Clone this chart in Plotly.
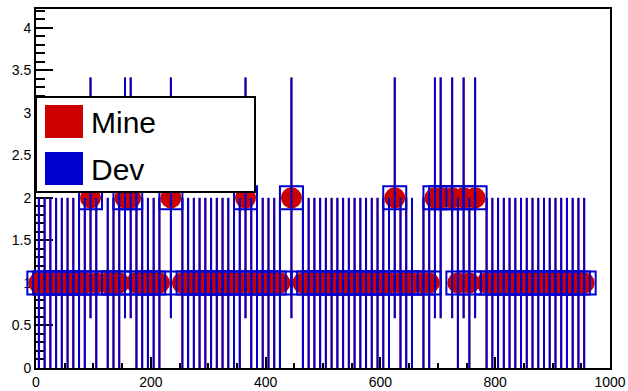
import math
import plotly.graph_objects as go

# ---- data (non-empty bins, bin width 10) ----
bin_centers = [5, 15, 25, 35, 45, 55, 65, 75, 85, 95, 105, 125, 135, 145, 155, 165, 175, 185, 195, 205,
               215, 235, 255, 265, 275, 285, 295, 305, 315, 325, 335, 345, 355, 365, 375, 385, 395, 405,
               415, 425, 445, 465, 475, 485, 495, 505, 515, 525, 535, 545, 555, 565, 575, 585, 595,
               605, 615, 625, 635, 645, 655, 675, 685, 695, 705, 725, 735, 745, 755, 765, 785, 795,
               805, 815, 825, 835, 845, 855, 865, 875, 885, 895, 905, 915, 925, 935, 945, 955]
mine_counts = [1, 1, 1, 1, 1, 1, 1, 1, 1, 2, 1, 1, 1, 1, 2, 2, 1, 1, 1, 1,
               1, 2, 1, 1, 1, 1, 1, 1, 1, 1, 1, 1, 1, 2, 1, 1, 1, 1,
               1, 1, 2, 1, 1, 1, 1, 1, 1, 1, 1, 1, 1, 1, 1, 1, 1,
               1, 1, 2, 1, 1, 1, 1, 1, 2, 2, 2, 1, 2, 1, 2, 1, 1,
               1, 1, 1, 1, 1, 1, 1, 1, 1, 1, 1, 1, 1, 1, 1, 1]
dev_counts = list(mine_counts)

x_ticks = [0, 200, 400, 600, 800, 1000]
y_ticks = [0, 0.5, 1, 1.5, 2, 2.5, 3, 3.5, 4]
series_names = ["Mine", "Dev"]

RED = "#cc0000"
BLUE = "#0000cc"

W, H = 628, 391
ML, MR, MT, MB = 36, 18, 9, 23
PW, PH = W - ML - MR, H - MT - MB


def px_x(p):
    return (p - ML) / PW


def px_y(p):
    return (H - MB - p) / PH


fig = go.Figure()

fig.add_trace(go.Scatter(
    x=bin_centers, y=mine_counts, mode="markers", name=series_names[0],
    marker=dict(symbol="circle", size=21, color=RED, line=dict(width=0)),
    error_y=dict(type="data", array=[math.sqrt(v) for v in mine_counts],
                 color=RED, thickness=2, width=0),
    cliponaxis=False, showlegend=False,
))
fig.add_trace(go.Scatter(
    x=bin_centers, y=dev_counts, mode="markers", name=series_names[1],
    marker=dict(symbol="square-open", size=23, color=BLUE, line=dict(width=2, color=BLUE)),
    error_y=dict(type="data", array=[math.sqrt(v) for v in dev_counts],
                 color=BLUE, thickness=2, width=0),
    cliponaxis=False, showlegend=False,
))

axis_font = dict(family="Liberation Sans, Arial, sans-serif", size=14, color="black")

fig.update_xaxes(
    range=[0, 1000], tickvals=x_ticks, ticks="inside", ticklen=11, tickwidth=2, tickcolor="black",
    minor=dict(dtick=50, ticks="inside", ticklen=5, tickwidth=2, tickcolor="black"),
    showline=True, linecolor="black", linewidth=2, mirror=True, automargin=False,
    showgrid=False, zeroline=False, tickfont=axis_font, layer="below traces",
)
fig.update_yaxes(
    range=[0, 4.22], tickvals=y_ticks, ticks="inside", ticklen=17, tickwidth=2, tickcolor="black",
    minor=dict(dtick=0.1, ticks="inside", ticklen=9, tickwidth=2, tickcolor="black"),
    showline=True, linecolor="black", linewidth=2, mirror=True, automargin=False,
    showgrid=False, zeroline=False, tickfont=axis_font, layer="below traces",
)

# legend box (ROOT TLegend look)
shapes = [
    dict(type="rect", xref="paper", yref="paper", x0=px_x(36), x1=px_x(255), y0=px_y(192), y1=px_y(97),
         fillcolor="white", line=dict(color="black", width=2), layer="above"),
    dict(type="rect", xref="paper", yref="paper", x0=px_x(45), x1=px_x(83), y0=px_y(138), y1=px_y(105),
         fillcolor=RED, line=dict(width=0), layer="above"),
    dict(type="rect", xref="paper", yref="paper", x0=px_x(45), x1=px_x(83), y0=px_y(185), y1=px_y(152),
         fillcolor=BLUE, line=dict(width=0), layer="above"),
]
annotations = [
    dict(xref="paper", yref="paper", x=px_x(89), y=px_y(122), text=series_names[0], showarrow=False,
         xanchor="left", yanchor="middle",
         font=dict(family="Liberation Sans, Arial, sans-serif", size=30, color="black")),
    dict(xref="paper", yref="paper", x=px_x(89), y=px_y(169), text=series_names[1], showarrow=False,
         xanchor="left", yanchor="middle",
         font=dict(family="Liberation Sans, Arial, sans-serif", size=30, color="black")),
]

fig.update_layout(
    width=W, height=H, margin=dict(l=ML, r=MR, t=MT, b=MB, autoexpand=False),
    paper_bgcolor="white", plot_bgcolor="white",
    shapes=shapes, annotations=annotations, showlegend=False,
)

fig.write_html("out.html", config={"displayModeBar": False, "staticPlot": True},
               post_script="document.body.style.margin='0';document.body.style.overflow='hidden';")
